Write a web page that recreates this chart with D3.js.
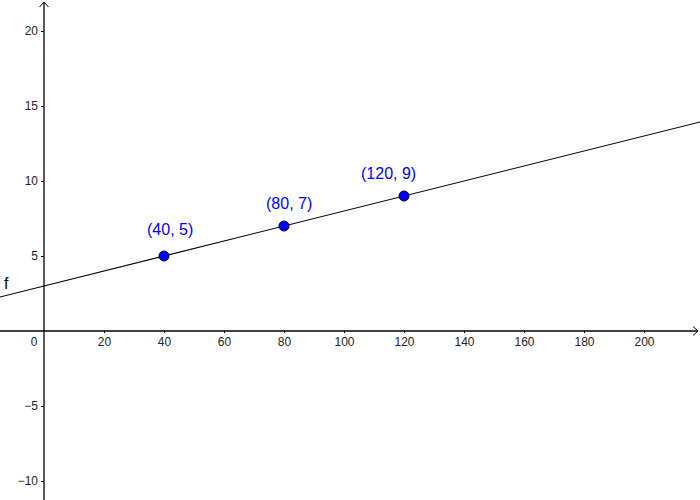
<!DOCTYPE html>
<html>
<head>
<meta charset="utf-8">
<script src="https://cdn.jsdelivr.net/npm/d3@7"></script>
<style>
  body { margin: 0; background: #fff; }
  svg { display: block; font-family: "Liberation Sans", Arial, sans-serif; }
</style>
</head>
<body>
<svg id="chart" width="700" height="500"></svg>
<script>
// data
var pointX = [40, 80, 120];
var pointY = [5, 7, 9];
var pointLabels = ["(40, 5)", "(80, 7)", "(120, 9)"];
var lineX = [-20, 240];      // f drawn across the view
var lineY = [2, 15];
var xTicks = [20, 40, 60, 80, 100, 120, 140, 160, 180, 200];
var yTicks = [-10, -5, 5, 10, 15, 20];
var funcName = "f";

// label offsets (px) from each point, like the picture
var labelDx = [-17, -18, -43];
var labelDy = [-21, -17, -17];

var width = 700, height = 500;

var x = d3.scaleLinear().domain([-44 / 3, 656 / 3]).range([0, width]);
var y = d3.scaleLinear().domain([-169 / 15, 331 / 15]).range([height, 0]);

var svg = d3.select("#chart");

/* axes */
var xAxis = d3.axisBottom(x).tickValues(xTicks).tickSizeInner(2).tickSizeOuter(0).tickPadding(4.5);
var yAxis = d3.axisLeft(y).tickValues(yTicks).tickSizeInner(3).tickSizeOuter(0).tickPadding(3);

var gx = svg.append("g")
  .attr("transform", `translate(0, ${y(0)})`)
  .call(xAxis);
var gy = svg.append("g")
  .attr("transform", `translate(${x(0)}, 0)`)
  .call(yAxis);

[gx, gy].forEach(g => {
  g.select(".domain").remove();
  g.selectAll("line").attr("stroke", "#000").attr("stroke-width", 1);
  g.selectAll("text").attr("fill", "#222").style("font-size", "12px")
    .style("font-family", "'Liberation Sans', Arial, sans-serif");
});

// axis lines with open arrow heads
svg.append("line")
  .attr("x1", 0).attr("x2", width - 2)
  .attr("y1", y(0)).attr("y2", y(0))
  .attr("stroke", "#000").attr("stroke-width", 1.3);
svg.append("path")
  .attr("d", `M${width - 7},${y(0) - 4.5}L${width - 2},${y(0)}L${width - 7},${y(0) + 4.5}`)
  .attr("fill", "none").attr("stroke", "#000").attr("stroke-width", 1);

svg.append("line")
  .attr("x1", x(0)).attr("x2", x(0))
  .attr("y1", height).attr("y2", 2)
  .attr("stroke", "#000").attr("stroke-width", 1.3);
svg.append("path")
  .attr("d", `M${x(0) - 4.5},7L${x(0)},2L${x(0) + 4.5},7`)
  .attr("fill", "none").attr("stroke", "#000").attr("stroke-width", 1);

// origin label
svg.append("text")
  .attr("x", x(0) - 10).attr("y", y(0) + 15)
  .attr("text-anchor", "middle")
  .attr("fill", "#222")
  .style("font-size", "12px")
  .text("0");

/* function line */
var line = d3.line().x(d => x(d[0])).y(d => y(d[1]));
svg.append("path")
  .attr("d", line(d3.zip(lineX, lineY)))
  .attr("fill", "none")
  .attr("stroke", "#000")
  .attr("stroke-width", 1.2);

svg.append("text")
  .attr("x", 4).attr("y", 289)
  .attr("fill", "#000")
  .style("font-size", "16px")
  .text(funcName);

/* points */
var pts = d3.zip(pointX, pointY, pointLabels, labelDx, labelDy);

svg.append("g").selectAll("circle")
  .data(pts).enter()
  .append("circle")
  .attr("cx", d => x(d[0]))
  .attr("cy", d => y(d[1]))
  .attr("r", 5)
  .attr("fill", "#0000ff")
  .attr("stroke", "#000033")
  .attr("stroke-width", 1);

svg.append("g").selectAll("text")
  .data(pts).enter()
  .append("text")
  .attr("x", d => x(d[0]) + d[3])
  .attr("y", d => y(d[1]) + d[4])
  .attr("fill", "#0000ff")
  .style("font-size", "16px")
  .text(d => d[2]);
</script>
</body>
</html>
